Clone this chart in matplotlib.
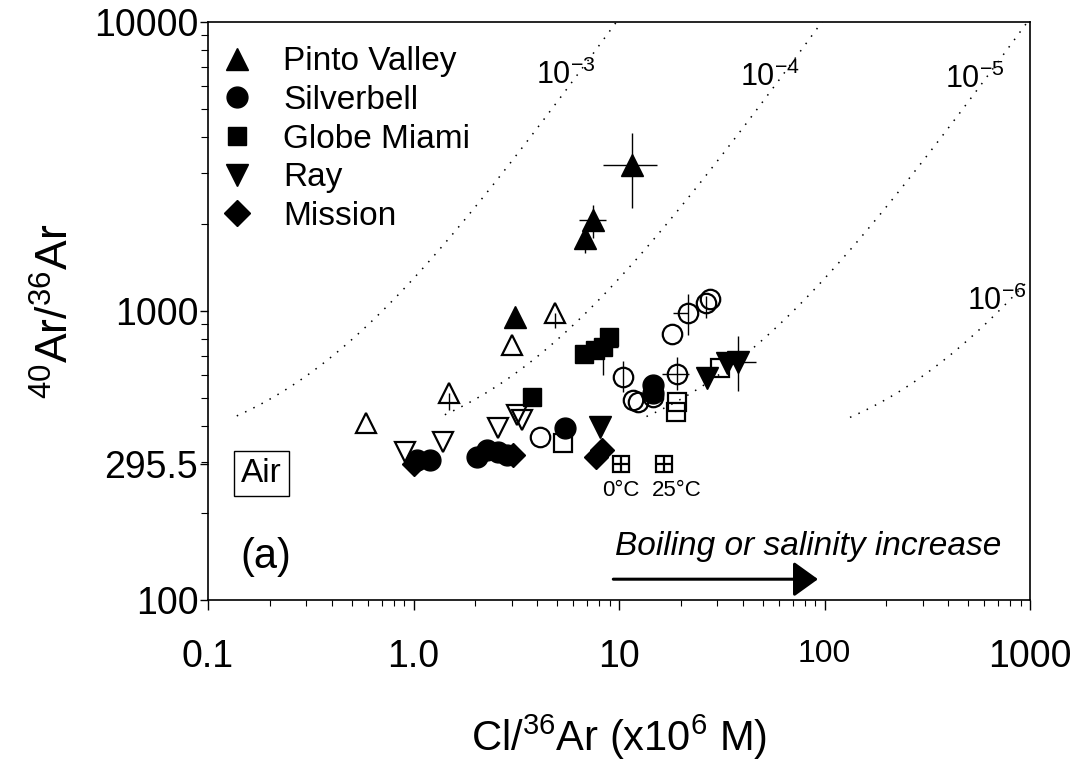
import numpy as np
import matplotlib.pyplot as plt
from matplotlib.lines import Line2D

plt.rcParams['font.family'] = ['Liberation Sans', 'DejaVu Sans']
plt.rcParams['mathtext.fontset'] = 'custom'
plt.rcParams['mathtext.rm'] = 'Liberation Sans'
plt.rcParams['mathtext.it'] = 'Liberation Sans:italic'

# Pinto Valley (filled / open)
pv_x = [11.6, 7.5, 6.8, 3.1]
pv_y = [3200, 2065, 1790, 953]
pv_open_x = [0.59, 1.49, 3.0, 4.9]
pv_open_y = [410, 520, 762, 985]

# Silverbell
sb_x = [1.04, 1.2, 2.04, 2.28, 2.58, 2.85, 5.46, 14.6, 14.6]
sb_y = [305, 305, 313, 330, 325, 318, 394, 555, 520]
sb_open_x = [4.13, 10.5, 11.7, 12.4, 14.6, 19.1, 18.1, 21.7, 26.5, 27.7]
sb_open_y = [367, 592, 492, 484, 503, 606, 833, 985, 1066, 1100]

# Globe Miami
gm_x = [3.77, 6.75, 7.64, 8.36, 8.94]
gm_y = [503, 710, 733, 751, 813]
gm_open_x = [5.34, 19.1, 18.9, 31.0]
gm_open_y = [349, 484, 447, 635]

# Ray
ray_x = [8.08, 26.8, 33.5, 37.9]
ray_y = [397, 587, 661, 666]
ray_open_x = [0.91, 1.39, 2.58, 3.19, 3.37]
ray_open_y = [325, 352, 394, 436, 420]

# Mission
mis_x = [1.0, 3.05, 7.73, 8.26]
mis_y = [296, 318, 313, 330]

# air saturated water
asw_x = [10.2, 16.6]
asw_y = [295.5, 295.5]
asw_labels = ['0°C', '25°C']

# error bars (x, y, x low, x high, y low, y high)
eb_x = [11.6, 7.5, 6.8, 4.9, 1.49, 8.36, 10.5, 19.1, 21.7, 26.5, 37.9]
eb_y = [3200, 2065, 1790, 985, 520, 751, 592, 606, 985, 1066, 666]
eb_xlo = [8.4, 6.4, 6.8, 4.9, 1.49, 8.36, 10.5, 16.2, 18.3, 26.5, 33.5]
eb_xhi = [15.3, 8.6, 6.8, 4.9, 1.49, 9.9, 10.5, 21.9, 21.7, 26.5, 46.4]
eb_ylo = [2270, 1790, 1590, 873, 454, 600, 525, 533, 826, 946, 529]
eb_yhi = [4130, 2330, 1790, 985, 520, 751, 671, 693, 1146, 1130, 819]

# 40Ar*/Cl reference lines
iso_ratio = [1e-3, 1e-4, 1e-5, 1e-6]
iso_xstart = [0.138, 1.42, 13.6, 133]
iso_labels = ['10$^{-3}$', '10$^{-4}$', '10$^{-5}$', '10$^{-6}$']

fig = plt.figure(figsize=(10.74, 7.62), dpi=100)
ax = fig.add_axes([0.1937, 0.2126, 0.7654, 0.7585])
ax.set_xscale('log')
ax.set_yscale('log')
ax.set_xlim(0.1, 1000)
ax.set_ylim(100, 10000)

for r, xs in zip(iso_ratio, iso_xstart):
    xx = np.logspace(np.log10(xs), 3, 300)
    ax.plot(xx, 295.5 + r * 1e6 * xx, color='black', lw=1.1,
            linestyle=(0, (1, 5)), zorder=1)

eb_x = np.array(eb_x); eb_y = np.array(eb_y)
ax.errorbar(eb_x, eb_y,
            xerr=[eb_x - np.array(eb_xlo), np.array(eb_xhi) - eb_x],
            yerr=[eb_y - np.array(eb_ylo), np.array(eb_yhi) - eb_y],
            fmt='none', ecolor='black', elinewidth=1.0, capsize=0, zorder=2)

open_kw = dict(linestyle='none', markerfacecolor='none', markeredgecolor='black',
               markeredgewidth=1.6, zorder=3)
fill_kw = dict(linestyle='none', color='black', zorder=4)

ax.plot(pv_open_x, pv_open_y, marker='^', ms=15, **open_kw)
ax.plot(sb_open_x, sb_open_y, marker='o', ms=14, **open_kw)
ax.plot(gm_open_x, gm_open_y, marker='s', ms=13, **open_kw)
ax.plot(ray_open_x, ray_open_y, marker='v', ms=15, **open_kw)

ax.plot(pv_x, pv_y, marker='^', ms=16, **fill_kw)
ax.plot(sb_x, sb_y, marker='o', ms=15, **fill_kw)
ax.plot(gm_x, gm_y, marker='s', ms=13.5, **fill_kw)
ax.plot(ray_x, ray_y, marker='v', ms=16, **fill_kw)
ax.plot(mis_x, mis_y, marker='D', ms=12.5, **fill_kw)

ax.plot(asw_x, asw_y, marker='s', ms=12, **open_kw)
ax.plot(asw_x, asw_y, marker='+', ms=12, linestyle='none', color='black',
        markeredgewidth=1.6, zorder=3)
for xv, yv, lab, dx in zip(asw_x, asw_y, asw_labels, [0, 9]):
    ax.annotate(lab, (xv, yv), xytext=(dx, -19), textcoords='offset points',
                ha='center', va='center', fontsize=16)

# legend
handles = [
    Line2D([], [], marker='^', ms=16, **fill_kw),
    Line2D([], [], marker='o', ms=15, **fill_kw),
    Line2D([], [], marker='s', ms=13.5, **fill_kw),
    Line2D([], [], marker='v', ms=16, **fill_kw),
    Line2D([], [], marker='D', ms=13, **fill_kw),
]
labels = ['Pinto Valley', 'Silverbell', 'Globe Miami', 'Ray', 'Mission']
ax.legend(handles, labels, loc='upper left', bbox_to_anchor=(0.0146, 0.958),
          frameon=False, fontsize=24, handlelength=1.0, handletextpad=0.9,
          labelspacing=0.23, borderpad=0, borderaxespad=0, numpoints=1)

lab_pos = [(0.4355, 0.908), (0.684, 0.905), (0.933, 0.901), (0.96, 0.516)]
for lab, (px, py) in zip(iso_labels, lab_pos):
    ax.text(px, py, lab, transform=ax.transAxes, ha='center', va='center',
            fontsize=22)

ax.text(0.065, 0.219, 'Air', transform=ax.transAxes, ha='center', va='center',
        fontsize=24, bbox=dict(boxstyle='square,pad=0.2', fc='white',
                               ec='black', lw=1.0))
ax.text(0.0706, 0.0744, '(a)', transform=ax.transAxes, ha='center',
        va='center', fontsize=30)
ax.text(0.495, 0.078, 'Boiling or salinity increase', transform=ax.transAxes,
        ha='left', va='baseline', fontsize=24, style='italic')
ax.annotate('', xy=(0.742, 0.036), xytext=(0.493, 0.036),
            xycoords='axes fraction', textcoords='axes fraction',
            arrowprops=dict(arrowstyle='-|>,head_length=0.5,head_width=0.36',
                            color='black', lw=2.2, mutation_scale=30,
                            shrinkA=0, shrinkB=0))

# axes styling
ax.set_xticks([0.1, 1, 10, 100, 1000])
ax.set_xticklabels(['0.1', '1.0', '10', '100', '1000'])
ax.set_yticks([100, 295.5, 1000, 10000])
ax.set_yticklabels(['100', '295.5', '1000', '10000'])
ax.set_yticks([v * 10 ** k for k in (2, 3) for v in range(2, 10)], minor=True)
ax.yaxis.set_minor_formatter(plt.NullFormatter())
ax.xaxis.set_minor_formatter(plt.NullFormatter())

ax.tick_params(axis='x', which='major', direction='out', length=7, width=1,
               pad=21, labelsize=27)
ax.tick_params(axis='x', which='minor', direction='out', length=4, width=0.8)
ax.tick_params(axis='y', which='major', direction='out', length=6, width=1,
               pad=1, labelsize=27)
ax.tick_params(axis='y', which='minor', direction='out', length=5, width=0.8)
ax.get_xticklabels()[3].set_fontsize(23)

for sp in ax.spines.values():
    sp.set_linewidth(1.2)

ax.set_xlabel('Cl/$^{36}$Ar (x10$^{6}$ M)', fontsize=30, labelpad=27)
ax.set_ylabel('$^{40}$Ar/$^{36}$Ar', fontsize=32, labelpad=12)

fig.savefig('out.png', dpi=100)
